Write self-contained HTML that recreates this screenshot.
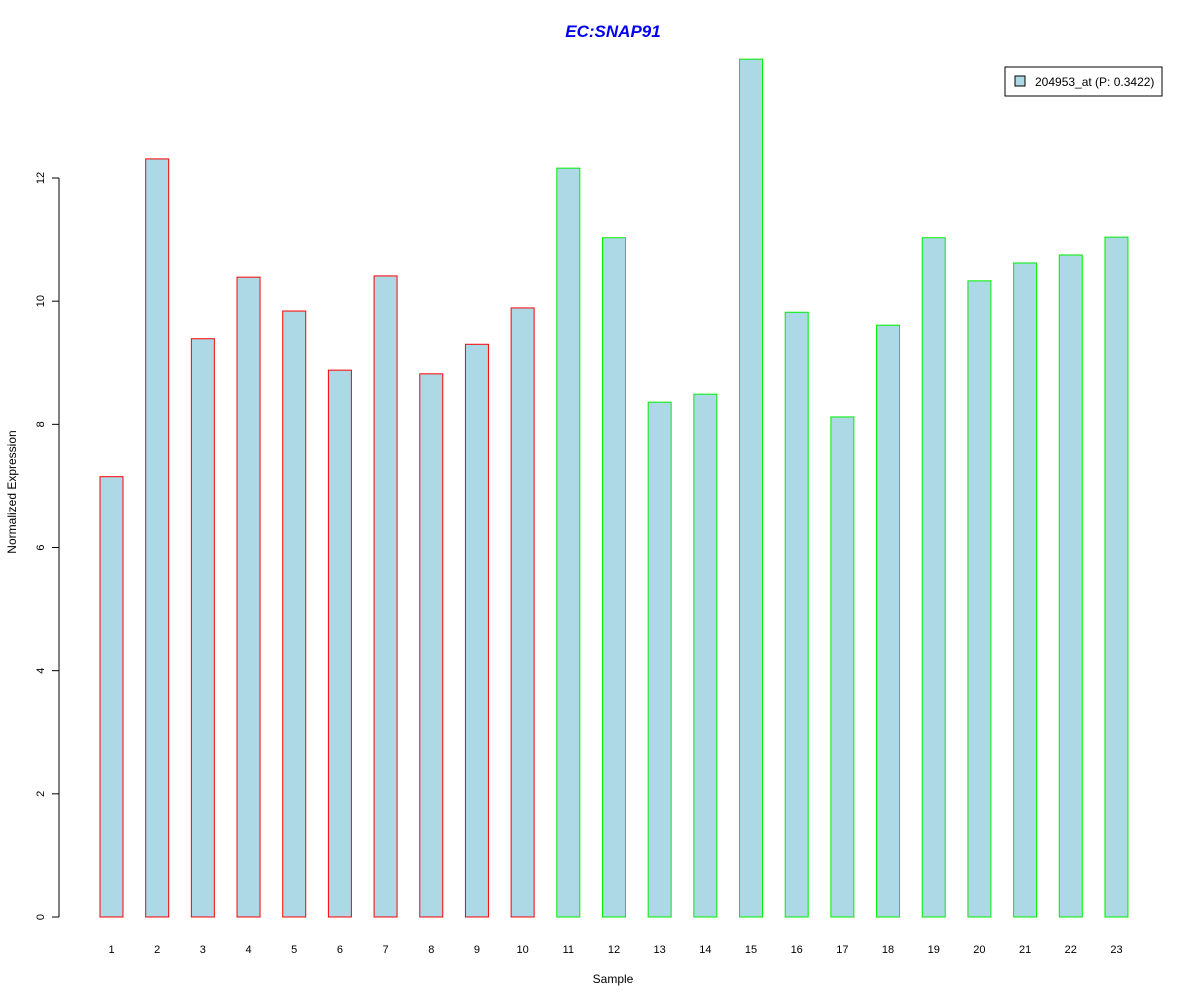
<!DOCTYPE html>
<html><head><meta charset="utf-8"><style>
body{margin:0;background:#fff}
svg{display:block;font-family:"Liberation Sans",Arial,sans-serif}
</style></head><body>
<svg id="chart" width="1200" height="1000">
<text x="613" y="37" text-anchor="middle" font-size="17" font-weight="bold" font-style="italic" fill="#0000ee">EC:SNAP91</text>
<text x="613" y="983" text-anchor="middle" font-size="12">Sample</text>
<text transform="translate(16,492) rotate(-90)" text-anchor="middle" font-size="12">Normalized Expression</text>
<g id="yaxis"></g>
<g id="bars"></g>
<g id="xlabels"></g>
<g>
<rect x="1005" y="67" width="157" height="29" fill="#fff" stroke="#000"/>
<rect x="1015" y="76" width="10" height="10" fill="#add8e6" stroke="#000"/>
<text x="1035" y="86" font-size="12">204953_at (P: 0.3422)</text>
</g>
</svg>
<script>
const categories=["1","2","3","4","5","6","7","8","9","10","11","12","13","14","15","16","17","18","19","20","21","22","23"];
const values=[7.15,12.31,9.39,10.39,9.84,8.88,10.41,8.82,9.30,9.89,12.16,11.03,8.36,8.49,13.93,9.82,8.12,9.61,11.03,10.33,10.62,10.75,11.04];
const groups=["a","a","a","a","a","a","a","a","a","a","b","b","b","b","b","b","b","b","b","b","b","b","b"];
const yTicks=[0,2,4,6,8,10,12];
const NS="http://www.w3.org/2000/svg";
const y=v=>917-v*61.583;
const x=i=>100+i*45.68;
const bars=document.getElementById('bars'),xl=document.getElementById('xlabels'),ya=document.getElementById('yaxis');
values.forEach((v,i)=>{
 const r=document.createElementNS(NS,'rect');
 r.setAttribute('x',x(i));r.setAttribute('y',y(v));r.setAttribute('width',23);r.setAttribute('height',y(0)-y(v));
 r.setAttribute('fill','#add8e6');r.setAttribute('stroke',groups[i]==='a'?'#ff0000':'#00ee00');
 
 
 bars.appendChild(r);
 const t=document.createElementNS(NS,'text');
 t.setAttribute('x',x(i)+11.5);t.setAttribute('y',953);t.setAttribute('text-anchor','middle');t.setAttribute('font-size','11');
 t.textContent=categories[i];
 
 
 xl.appendChild(t);
});
const ax=document.createElementNS(NS,'line');
ax.setAttribute('x1',59);ax.setAttribute('x2',59);ax.setAttribute('y1',y(0));ax.setAttribute('y2',y(12));ax.setAttribute('stroke','#000');


ya.appendChild(ax);
yTicks.forEach(v=>{
 const l=document.createElementNS(NS,'line');
 l.setAttribute('x1',52);l.setAttribute('x2',59);l.setAttribute('y1',y(v));l.setAttribute('y2',y(v));l.setAttribute('stroke','#000');
 
 
 ya.appendChild(l);
 const t=document.createElementNS(NS,'text');
 t.setAttribute('transform','translate(44,'+y(v)+') rotate(-90)');t.setAttribute('text-anchor','middle');t.setAttribute('font-size','11');
 t.textContent=v;
 
 
 ya.appendChild(t);
});
</script>
</body></html>
